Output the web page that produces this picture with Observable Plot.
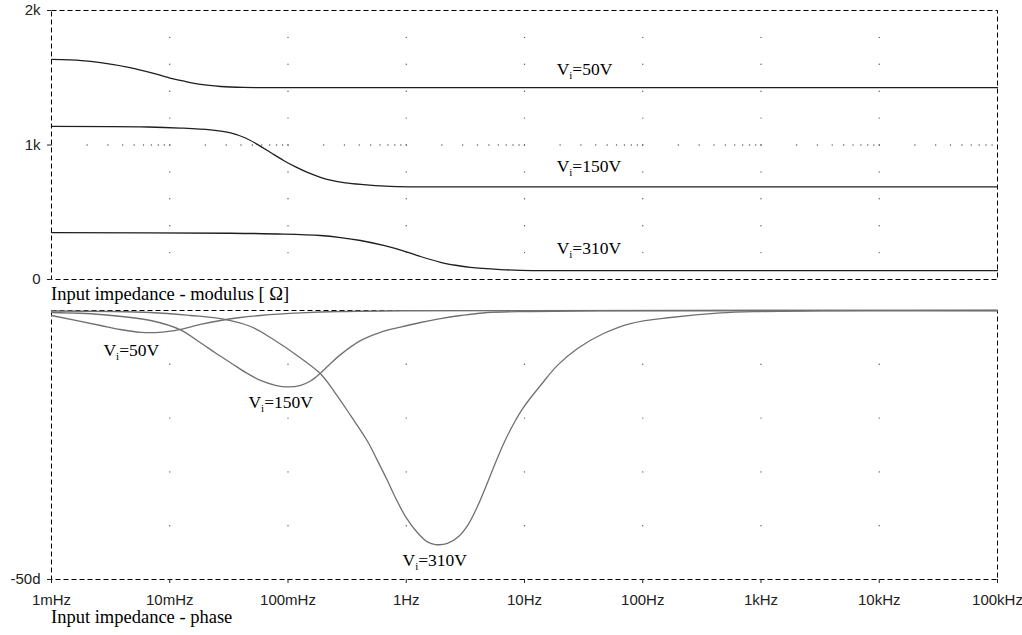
<!DOCTYPE html>
<html>
<head>
<meta charset="utf-8">
<script src="https://cdn.jsdelivr.net/npm/d3@7"></script>
<script src="https://cdn.jsdelivr.net/npm/@observablehq/plot@0.6"></script>
<style>
  body { margin: 0; background: #fff; }
  #wrap { position: relative; width: 1022px; height: 635px; overflow: hidden; }
  #top, #bot { position: absolute; left: 0; }
  #top { top: 0; }
  #bot { top: 300px; }
  .ttl { position: absolute; left: 51px; font-family: "Liberation Serif", serif; font-size: 18.5px; line-height: 18px; color: #000; white-space: nowrap; z-index: 2; }
</style>
</head>
<body>
<div id="wrap">
  <div id="top"></div>
  <div id="bot"></div>
  <div class="ttl" id="t1" style="top:285px">Input impedance - modulus [ Ω]</div>
  <div class="ttl" id="t2" style="top:608px">Input impedance - phase</div>
</div>
<script>
// ---------- data ----------
const decadeTicks = [1e-3, 1e-2, 1e-1, 1, 10, 100, 1e3, 1e4, 1e5];
const tickLabels = ["1mHz", "10mHz", "100mHz", "1Hz", "10Hz", "100Hz", "1kHz", "10kHz", "100kHz"];
const modTicks = [0, 1000, 2000];
const modTickLabels = ["0", "1k", "2k"];
const phaseTicks = [-50];
const phaseTickLabels = ["-50d"];
const seriesNames = ["50V", "150V", "310V"];

// modulus [Ohm]
const mod50F = [0.001, 0.0018, 0.0026, 0.0046, 0.0069, 0.01, 0.0136, 0.0182, 0.027, 0.042, 0.06, 0.1, 1, 10, 100, 1000, 10000, 100000];
const mod50V = [1636, 1628, 1613, 1576, 1539, 1498, 1472, 1450, 1435, 1428, 1427, 1427, 1427, 1427, 1427, 1427, 1427, 1427];
const mod150F = [0.001, 0.0065, 0.0123, 0.0221, 0.0327, 0.0437, 0.0564, 0.0712, 0.0917, 0.116, 0.146, 0.188, 0.229, 0.306, 0.435, 0.667, 1.09, 3, 10, 100, 1000, 10000, 100000];
const mod150V = [1138, 1134, 1126, 1112, 1090, 1052, 999, 944, 885, 837, 796, 760, 738, 718, 705, 694, 689, 688, 688, 688, 688, 688, 688];
const mod310F = [0.001, 0.0327, 0.0917, 0.188, 0.278, 0.41, 0.643, 0.986, 1.32, 1.95, 2.61, 3.49, 6.27, 9.25, 20, 100, 1000, 10000, 100000];
const mod310V = [349, 344, 338, 327, 312, 290, 253, 208, 171, 128, 106, 90, 74, 68, 66, 66, 66, 66, 66];

// phase [deg]
const ph50F = [0.001, 0.0026, 0.0038, 0.0057, 0.0076, 0.0101, 0.0123, 0.0182, 0.0269, 0.0396, 0.0585, 0.128, 0.278, 0.95, 10, 1000, 100000];
const ph50V = [-0.93, -2.79, -3.53, -4.05, -4.1, -3.85, -3.5, -2.6, -1.86, -1.3, -0.93, -0.46, -0.19, -0.05, -0.01, 0, 0];
const ph150F = [0.001, 0.0026, 0.0069, 0.0123, 0.0182, 0.0244, 0.0327, 0.0437, 0.0585, 0.0783, 0.099, 0.128, 0.155, 0.189, 0.229, 0.278, 0.41, 0.605, 0.893, 1.32, 1.95, 2.88, 4.86, 11.3, 44, 1000, 100000];
const ph150V = [-0.37, -0.74, -1.86, -3.6, -6.0, -7.9, -9.7, -11.5, -13.0, -13.9, -14.2, -13.9, -13.1, -11.6, -9.85, -8.2, -5.6, -4.05, -3.1, -2.23, -1.49, -0.93, -0.37, -0.19, -0.07, 0, 0];
const ph310F = [0.001, 0.0069, 0.015, 0.0285, 0.0482, 0.0753, 0.12, 0.189, 0.252, 0.338, 0.47, 0.571, 0.693, 0.811, 0.986, 1.245, 1.51, 1.77, 2.23, 2.77, 3.36, 4.01, 4.68, 5.47, 6.64, 8.07, 9.81, 13.7, 19.0, 28.1, 46.6, 78.8, 172, 455, 991, 3180, 100000];
const ph310V = [-0.09, -0.37, -0.93, -1.6, -2.97, -5.4, -8.4, -11.8, -15.4, -19.5, -24.3, -27.9, -31.6, -34.8, -38.3, -41.3, -43.0, -43.5, -43.3, -42.0, -39.7, -36.4, -32.9, -29.2, -24.8, -21.1, -18.0, -13.9, -10.2, -7.06, -4.28, -2.42, -1.30, -0.45, -0.19, -0.05, 0];

// curve labels
const modLabelF = [18.7, 18.7, 18.7];
const modLabelV = [1520, 796, 193];
const phLabelF = [0.00275, 0.0463, 0.93];
const phLabelV = [-8.4, -18.2, -47.4];

// grid values
const modGridY = [200, 400, 600, 800, 1000, 1200, 1400, 1600, 1800];
const phGridY = [-10, -20, -30, -40];
const innerDecades = [1e-2, 1e-1, 1, 10, 100, 1e3, 1e4];

// ---------- build tables ----------
const zip = (F, V, s) => F.map((f, i) => ({f, v: V[i], s}));
const modData = [...zip(mod50F, mod50V, "50V"), ...zip(mod150F, mod150V, "150V"), ...zip(mod310F, mod310V, "310V")];
const phData = [...zip(ph50F, ph50V, "50V"), ...zip(ph150F, ph150V, "150V"), ...zip(ph310F, ph310V, "310V")];
const modLabels = seriesNames.map((s, i) => ({f: modLabelF[i], v: modLabelV[i], s}));
const phLabels = seriesNames.map((s, i) => ({f: phLabelF[i], v: phLabelV[i], s}));
const modGrid = innerDecades.flatMap(f => modGridY.map(v => ({f, v})));
const minorRow = [];
for (let k = -3; k <= 4; k++) for (let m = 1; m <= 9; m++) minorRow.push({f: m * Math.pow(10, k), v: 1000});
const phGrid = innerDecades.flatMap(f => phGridY.map(v => ({f, v})));

const xDomain = [1e-3, 1e5];
const common = {
  width: 1022, marginLeft: 51, marginRight: 25,
  style: {fontFamily: "Liberation Sans, Arial, sans-serif", fontSize: "15px", color: "#222", background: "transparent", overflow: "visible"}
};
const labelText = {x: "f", y: "v", text: "s", textAnchor: "start", lineAnchor: "bottom",
  fontFamily: "Liberation Serif, serif", fontSize: 17.5, fill: "#000", className: "vlabel"};

const topPlot = Plot.plot({
  ...common, height: 290, marginTop: 10, marginBottom: 11,
  x: {type: "log", domain: xDomain, axis: null},
  y: {domain: [0, 2000], axis: null},
  marks: [
    Plot.dot(modGrid, {x: "f", y: "v", r: 0.7, fill: "#555", stroke: null}),
    Plot.dot(minorRow, {x: "f", y: "v", r: 0.7, fill: "#555", stroke: null}),
    Plot.frame({stroke: "#000", strokeDasharray: "5,3"}),
    Plot.axisY({ticks: modTicks, tickFormat: d => modTickLabels[modTicks.indexOf(d)], tickSize: 4, tickPadding: 7, label: null}),
    Plot.line(modData, {x: "f", y: "v", z: "s", stroke: "#1e1e1e", strokeWidth: 1.3, curve: "catmull-rom"}),
    Plot.text(modLabels, labelText)
  ]
});

const botPlot = Plot.plot({
  ...common, height: 335, marginTop: 10, marginBottom: 56,
  x: {type: "log", domain: xDomain, axis: null},
  y: {domain: [-50, 0], axis: null},
  marks: [
    Plot.dot(phGrid, {x: "f", y: "v", r: 0.7, fill: "#555", stroke: null}),
    Plot.frame({stroke: "#000", strokeDasharray: "5,3"}),
    Plot.axisY({ticks: phaseTicks, tickFormat: d => phaseTickLabels[phaseTicks.indexOf(d)], tickSize: 4, tickPadding: 7, label: null}),
    Plot.axisX({ticks: decadeTicks, tickFormat: d => tickLabels[Math.round(Math.log10(d)) + 3], tickSize: 4, tickPadding: 11, label: null}),
    Plot.line(phData, {x: "f", y: "v", z: "s", stroke: "#707070", strokeWidth: 1.3, curve: "catmull-rom"}),
    Plot.text(phLabels, labelText)
  ]
});

document.getElementById("top").appendChild(topPlot);
document.getElementById("bot").appendChild(botPlot);

// subscript "i" in V_i labels
for (const svg of [topPlot, botPlot]) {
  d3.select(svg).selectAll(".vlabel text").each(function () {
    const s = this.textContent;
    const t = d3.select(this);
    t.text(null);
    t.append("tspan").text("V");
    t.append("tspan").attr("dy", 4).attr("font-size", 11).text("i");
    t.append("tspan").attr("dy", -4).text("=" + s);
  });
}
</script>
</body>
</html>
